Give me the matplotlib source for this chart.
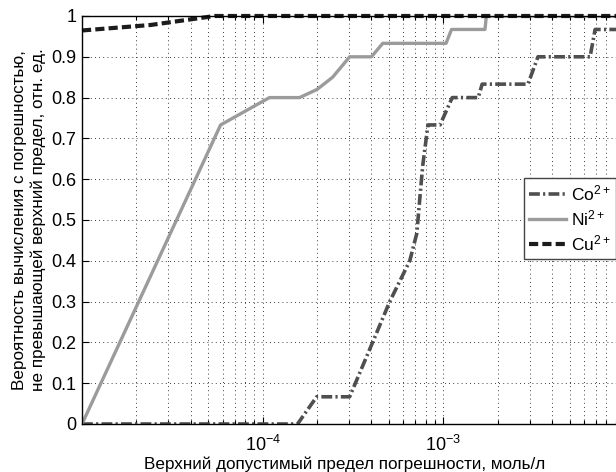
import numpy as np
from matplotlib import pyplot as plt
from matplotlib.ticker import FixedLocator, LogLocator, FixedFormatter, NullFormatter

plt.rcParams['font.family'] = ['Liberation Sans', 'DejaVu Sans']
plt.rcParams['mathtext.fontset'] = 'custom'
plt.rcParams['mathtext.rm'] = 'Liberation Sans'
plt.rcParams['mathtext.it'] = 'Liberation Sans:italic'
plt.rcParams['mathtext.bf'] = 'Liberation Sans:bold'

# données (x en mol/l, y probabilité)
x_co = [1e-5, 1.56e-4, 1.99e-4, 3.03e-4, 4.06e-4, 5.05e-4, 6.52e-4, 7.13e-4,
        7.40e-4, 7.69e-4, 8.22e-4, 9.59e-4, 1.12e-3, 1.56e-3, 1.64e-3,
        2.94e-3, 3.34e-3, 6.49e-3, 6.92e-3, 1e-2]
y_co = [0, 0, 0.0667, 0.0667, 0.2, 0.3, 0.4, 0.467, 0.55, 0.633, 0.733, 0.733,
        0.8, 0.8, 0.833, 0.833, 0.9, 0.9, 0.967, 0.967]

x_ni = [1e-5, 5.85e-5, 1.09e-4, 1.6e-4, 2.0e-4, 2.44e-4, 3.03e-4, 4.0e-4,
        4.62e-4, 1.035e-3, 1.11e-3, 1.70e-3, 1.73e-3, 1e-2]
y_ni = [0, 0.733, 0.8, 0.8, 0.82, 0.85, 0.9, 0.9, 0.933, 0.933, 0.967, 0.967,
        1.0, 1.0]

x_cu = [1e-5, 2.4e-5, 5.42e-5, 1e-2]
y_cu = [0.9645, 0.978, 1.0, 1.0]

y_ticks = [0, 0.1, 0.2, 0.3, 0.4, 0.5, 0.6, 0.7, 0.8, 0.9, 1]
y_labels = ['0', '0.1', '0.2', '0.3', '0.4', '0.5', '0.6', '0.7', '0.8', '0.9', '1']
x_ticks = [1e-4, 1e-3]
x_labels = ['$10^{-4}$', '$10^{-3}$']

W, H = 616, 472
fig = plt.figure(figsize=(W / 100, H / 100), dpi=100)
# l'axe déborde à droite : l'image d'origine est coupée
ax = fig.add_axes([82 / W, (H - 424) / H, (624 - 82) / W, (424 - 16) / H])

ax.plot(x_co, y_co, color='#4f4f4f', lw=2.6, ls=(0, (3.0, 0.9, 0.6, 0.9)),
        label='Co$^{2+}$')
ax.plot(x_ni, y_ni, color='#9b9b9b', lw=2.4, ls='-', label='Ni$^{2+}$')
ax.plot(x_cu, y_cu, color='#1c1c1c', lw=3.0, ls=(0, (2.2, 1.0)),
        label='Cu$^{2+}$', clip_on=False)

ax.set_xscale('log')
ax.set_xlim(1e-5, 1e-2)
ax.set_ylim(0, 1)
ax.xaxis.set_major_locator(FixedLocator(x_ticks))
ax.xaxis.set_major_formatter(FixedFormatter(x_labels))
ax.xaxis.set_minor_locator(LogLocator(base=10, subs=np.arange(2, 10)))
ax.xaxis.set_minor_formatter(NullFormatter())
ax.yaxis.set_major_locator(FixedLocator(y_ticks))
ax.yaxis.set_major_formatter(FixedFormatter(y_labels))

ax.tick_params(which='both', direction='in', top=True, right=True,
               labelsize=13, width=0.8)
ax.tick_params(which='major', length=5)
ax.tick_params(which='minor', length=3)
ax.tick_params(axis='x', pad=8)
ax.tick_params(axis='y', pad=4)

# grille en pointillés comme sous matlab
gkw = dict(color='black', lw=0.6, ls=(0, (1, 4)))
ax.xaxis.grid(True, which='both', **gkw)
ax.yaxis.grid(True, which='major', **gkw)
ax.set_axisbelow(True)
for s in ax.spines.values():
    s.set_linewidth(1.0)

ax.set_xlabel('Верхний допустимый предел погрешности, моль/л', fontsize=12.3)
ax.set_ylabel('Вероятность вычисления с погрешностью,\n'
              'не превышающей верхний предел, отн. ед.', fontsize=12.3,
              linespacing=1.25)
ax.xaxis.set_label_coords((345 - 82) / 542, -(456 - 424) / 408)
ax.yaxis.set_label_coords(-(82 - 12) / 542, 0.5)
ax.yaxis.label.set_va('top')

leg = ax.legend(loc='upper right', bbox_to_anchor=(0.985, 0.603),
                borderaxespad=0, fontsize=12.5, handlelength=2.1,
                fancybox=False, edgecolor='#444444', framealpha=1,
                labelspacing=0.3, handletextpad=0.3, borderpad=0.3)
leg.get_frame().set_linewidth(1.0)

fig.savefig('out.png', dpi=100)
